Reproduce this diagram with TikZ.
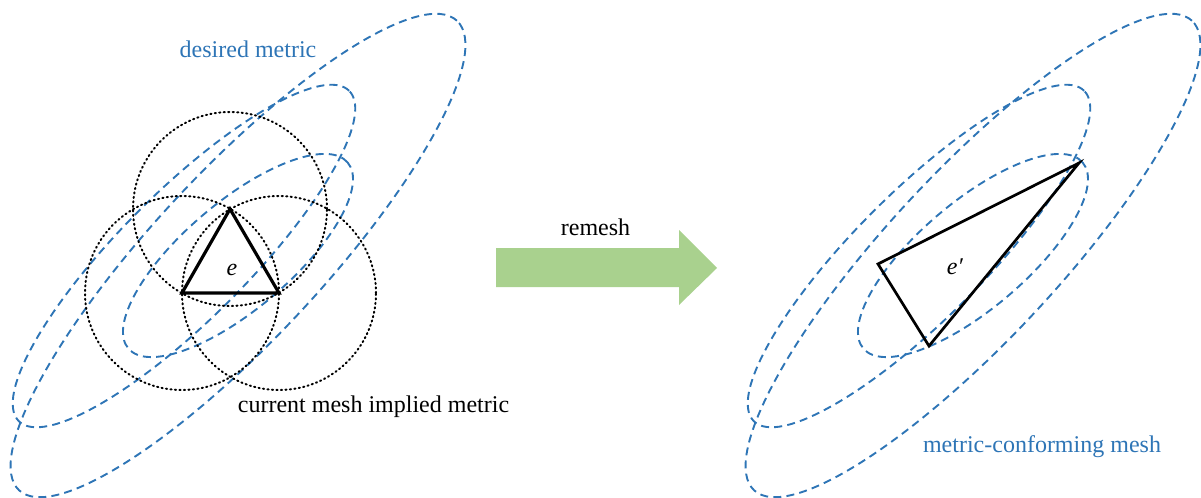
\documentclass[tikz,border=0pt]{standalone}
\usepackage{fontspec}
\setmainfont{Liberation Serif}
\begin{document}
\begin{tikzpicture}[x=0.5pt,y=-0.5pt,
  metricblue/.style={draw=mblue,line width=0.95pt,dash pattern=on 4pt off 2.6pt},
  implied/.style={draw=black,line width=1pt,dash pattern=on 0.6pt off 1.65pt,line cap=round},
  elem/.style={draw=black,line width=1.6pt,line join=miter},
  newelem/.style={draw=black,line width=1.35pt,line join=miter},
  lbl/.style={font=\fontsize{12}{14}\selectfont,anchor=base,inner sep=0pt},
]
\definecolor{mblue}{HTML}{2E75B6}
\definecolor{mgreen}{HTML}{A9D18E}
\useasboundingbox (0,0) rectangle (1201,498);

% ---------- left: desired metric (dashed ellipses) ----------
\coordinate (cA) at (238,255.5);
\coordinate (cB) at (184,256);
\draw[metricblue,rotate around={47:(cA)}] (cA) ellipse [x radius=160.5pt,y radius=42pt];
\draw[metricblue,rotate around={45:(cB)}] (cB) ellipse [x radius=116.8pt,y radius=31.9pt];
\draw[metricblue,rotate around={40.3:(cA)}] (cA) ellipse [x radius=71.9pt,y radius=26.75pt];

% ---------- left: element e and its implied metric ----------
\coordinate (v1) at (230,209);
\coordinate (v2) at (182,293);
\coordinate (v3) at (279,293);
\draw[implied] (v1) circle [radius=48.5pt];
\draw[implied] (v2) circle [radius=48.5pt];
\draw[implied] (v3) circle [radius=48.5pt];
\draw[elem] (v1) -- (v2) -- (v3) -- cycle;
\node[lbl] (e) at (232,275) {\textit{e}};

\node[lbl,text=mblue] (desired) at (248,57.5) {desired metric};
\node[lbl] (implied) at (373.5,412.5) {current mesh implied metric};

% ---------- remesh arrow ----------
\coordinate (a1) at (496,248);
\coordinate (a2) at (679,248);
\coordinate (a3) at (679,230);
\coordinate (a4) at (717,268);
\coordinate (a5) at (679,305);
\coordinate (a6) at (679,287);
\coordinate (a7) at (496,287);
\fill[mgreen] (a1) -- (a2) -- (a3) -- (a4) -- (a5) -- (a6) -- (a7) -- cycle;
\node[lbl] (remesh) at (595.5,235) {remesh};

% ---------- right: metric-conforming mesh ----------
\coordinate (cA2) at (973,255.5);
\coordinate (cB2) at (919,256);
\draw[metricblue,rotate around={47:(cA2)}] (cA2) ellipse [x radius=160.5pt,y radius=42pt];
\draw[metricblue,rotate around={45:(cB2)}] (cB2) ellipse [x radius=116.8pt,y radius=31.9pt];
\draw[metricblue,rotate around={40.3:(cA2)}] (cA2) ellipse [x radius=71.9pt,y radius=26.75pt];

\coordinate (w1) at (878,264);
\coordinate (w2) at (1079,163);
\coordinate (w3) at (929,346);
\draw[newelem] (w1) -- (w2) -- (w3) -- cycle;
\node[lbl] (eprime) at (955,274) {\textit{e′}};

\node[lbl,text=mblue] (conforming) at (1042,452.5) {metric-conforming mesh};
\end{tikzpicture}
\end{document}
